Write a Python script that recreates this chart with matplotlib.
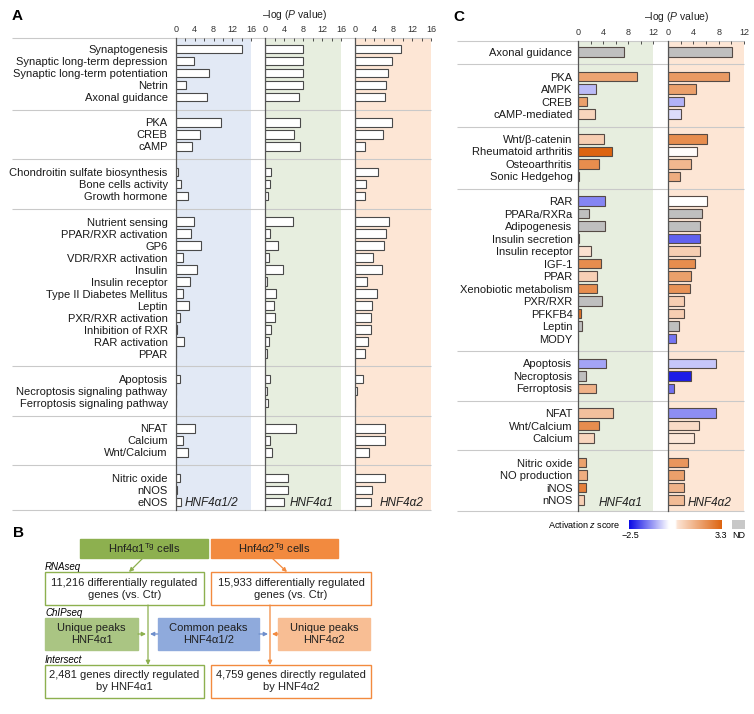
import numpy as np
import matplotlib.pyplot as plt
from matplotlib.colors import LinearSegmentedColormap, Normalize
from matplotlib.patches import Rectangle

plt.rcParams['font.family'] = ['Liberation Sans', 'DejaVu Sans']
plt.rcParams['mathtext.fontset'] = 'custom'
plt.rcParams['mathtext.rm'] = 'Liberation Sans'
plt.rcParams['mathtext.it'] = 'Liberation Sans:italic'

W, H = 754, 714

# ---- panel A data: -log(P) per pathway
a_labels = ['Synaptogenesis', 'Synaptic long-term depression', 'Synaptic long-term potentiation',
            'Netrin', 'Axonal guidance',
            'PKA', 'CREB', 'cAMP',
            'Chondroitin sulfate biosynthesis', 'Bone cells activity', 'Growth hormone',
            'Nutrient sensing', 'PPAR/RXR activation', 'GP6', 'VDR/RXR activation', 'Insulin',
            'Insulin receptor', 'Type II Diabetes Mellitus', 'Leptin', 'PXR/RXR activation',
            'Inhibition of RXR', 'RAR activation', 'PPAR',
            'Apoptosis', 'Necroptosis signaling pathway', 'Ferroptosis signaling pathway',
            'NFAT', 'Calcium', 'Wnt/Calcium',
            'Nitric oxide', 'nNOS', 'eNOS']
a_sizes = [5, 3, 3, 12, 3, 3, 3]
a_hnf12 = [14.0, 3.9, 7.1, 2.2, 6.7,
           9.5, 5.1, 3.5,
           0.35, 1.0, 2.5,
           3.9, 3.1, 5.3, 1.5, 4.4, 2.9, 1.4, 2.7, 0.9, 0.3, 1.7, 0.0,
           0.8, 0.0, 0.0,
           4.1, 1.5, 2.5,
           0.8, 0.3, 1.0]
a_hnf1 = [7.9, 8.1, 8.1, 8.1, 7.1,
          7.4, 6.2, 7.3,
          1.3, 1.1, 0.7,
          5.8, 1.1, 2.7, 0.9, 3.7, 0.5, 2.3, 1.8, 2.0, 1.3, 0.9, 0.35,
          1.1, 0.5, 0.6,
          6.6, 1.1, 1.5,
          4.9, 4.9, 4.1]
a_hnf2 = [9.7, 7.8, 6.9, 6.5, 6.3,
          7.8, 5.8, 2.1,
          4.8, 2.3, 2.1,
          7.2, 6.5, 6.1, 3.7, 5.7, 2.5, 4.6, 3.6, 3.4, 3.4, 2.7, 2.2,
          1.7, 0.4, 0.1,
          6.3, 6.3, 3.0,
          6.3, 3.6, 3.4]
a_names = ['HNF4α1/2', 'HNF4α1', 'HNF4α2']
a_ticks = [0, 4, 8, 12, 16]

# ---- panel C data: -log(P) and activation z score (nan = ND)
c_labels = ['Axonal guidance',
            'PKA', 'AMPK', 'CREB', 'cAMP-mediated',
            'Wnt/β-catenin', 'Rheumatoid arthritis', 'Osteoarthritis', 'Sonic Hedgehog',
            'RAR', 'PPARa/RXRa', 'Adipogenesis', 'Insulin secretion', 'Insulin receptor',
            'IGF-1', 'PPAR', 'Xenobiotic metabolism', 'PXR/RXR', 'PFKFB4', 'Leptin', 'MODY',
            'Apoptosis', 'Necroptosis', 'Ferroptosis',
            'NFAT', 'Wnt/Calcium', 'Calcium',
            'Nitric oxide', 'NO production', 'iNOS', 'nNOS']
c_sizes = [1, 4, 4, 12, 3, 3, 4]
c_hnf1 = [7.3,
          9.5, 2.9, 1.4, 2.7,
          4.1, 5.4, 3.3, 0.2,
          4.3, 1.8, 4.3, 0.2, 2.0, 3.7, 3.1, 3.0, 3.8, 0.5, 0.7, 0.0,
          4.5, 1.2, 2.8,
          5.6, 3.3, 2.5,
          1.3, 1.5, 1.3, 1.0]
c_hnf2 = [10.1,
          9.6, 4.4, 2.5, 2.0,
          6.2, 4.6, 3.7, 1.9,
          6.2, 5.4, 5.1, 5.1, 5.0, 4.3, 3.7, 3.4, 2.6, 2.6, 1.8, 1.3,
          7.6, 3.6, 1.0,
          7.6, 4.9, 4.1,
          3.1, 2.6, 2.5, 2.5]
nan = np.nan
c_z1 = [nan,
        1.9, -0.7, 2.0, 0.85,
        1.0, 3.3, 2.4, nan,
        -1.25, nan, nan, -2.3, 0.6, 2.4, 0.95, 2.4, nan, 3.0, nan, nan,
        -0.93, nan, 1.6,
        1.3, 2.4, 0.85,
        1.95, 1.7, 2.7, 0.95]
c_z2 = [nan,
        2.1, 2.0, -0.8, -0.35,
        2.4, 0.4, 1.5, 1.7,
        0.1, nan, nan, -1.6, 1.0, 2.4, 2.0, 2.3, 1.0, 1.0, nan, -1.4,
        -0.58, -2.3, -1.45,
        -1.15, 0.7, 0.5,
        2.2, 2.0, 1.6, 1.4]
c_names = ['HNF4α1', 'HNF4α2']
c_ticks = [0, 4, 8, 12]
z_min, z_max = -2.5, 3.3


def rect(x0, y0, x1, y1):
    return [x0 / W, 1 - y1 / H, (x1 - x0) / W, (y1 - y0) / H]


def rows(sizes, first, step, gap):
    pos = []
    k = 0
    for g, n in enumerate(sizes):
        for i in range(n):
            pos.append(first + k * step + g * gap)
            k += 1
    ends = np.cumsum(sizes)[:-1]
    seps = [(pos[e - 1] + pos[e]) / 2 for e in ends]
    return np.array(pos), seps


def style_axis(ax, xmax, ticks):
    ax.set_xlim(0, xmax)
    ax.xaxis.tick_top()
    ax.set_xticks(ticks)
    ax.set_xticks(np.arange(0, xmax + 1, 2), minor=True)
    ax.tick_params(axis='x', which='both', direction='in', length=2, width=0.6, pad=3,
                   labelsize=6.5, colors='#333333')
    for s in ['top', 'right', 'bottom']:
        ax.spines[s].set_visible(False)
    ax.spines['left'].set_color(spine_color)
    ax.spines['left'].set_linewidth(0.9)


fig = plt.figure(figsize=(W / 100, H / 100), dpi=100)
bg = fig.add_axes([0, 0, 1, 1])
bg.set_xlim(0, W)
bg.set_ylim(H, 0)
bg.axis('off')

sep_color = '#C9C9C9'
spine_color = '#555555'
title = '–log (' + r'$\mathit{P}$' + ' value)'

# ================= panel A =================
a_top, a_bot = 38, 510
a_x = [(176, 251), (265, 341), (355, 431)]
a_shade = ['#E2E9F5', '#E7EEDF', '#FDE6D5']
a_pos, a_seps = rows(a_sizes, 49, 12, 13.5)

for j, (x0, x1) in enumerate(a_x):
    bg.add_patch(Rectangle((x0, a_top), x1 - x0, a_bot - a_top, color=a_shade[j], lw=0, zorder=0))
bg.hlines([a_top] + a_seps + [a_bot], 12, 431, color=sep_color, lw=0.8, zorder=1)

for j, vals in enumerate([a_hnf12, a_hnf1, a_hnf2]):
    x0, x1 = a_x[j]
    ax = fig.add_axes(rect(x0, a_top, x1, a_bot), facecolor='none')
    ax.barh(a_pos, vals, height=8.3, color='white', edgecolor='#4a4a4a', lw=0.8)
    ax.set_ylim(a_bot, a_top)
    style_axis(ax, 16, a_ticks)
    if j == 0:
        ax.set_yticks(a_pos, a_labels)
        ax.tick_params(axis='y', length=0, pad=6, labelsize=8, labelcolor='#1a1a1a')
    else:
        ax.set_yticks([])

bg.text(12, 16, 'A', fontsize=11, fontweight='bold', va='center')
bg.text(295, 15, title, ha='center', va='center', fontsize=7.5, color='#222222')
for name, xl in zip(a_names, [185, 290, 380]):
    bg.text(xl, 503, name, fontsize=8.5, style='italic', va='center', color='#222222')

# ================= panel C =================
c_top, c_bot = 41, 511
c_x = [(578, 653), (668, 744)]
c_shade = ['#E7EEDF', '#FDE6D5']
c_pos, c_seps = rows(c_sizes, 52, 12.5, 12.2)

cmap = LinearSegmentedColormap.from_list(
    'zscore', [(0, '#0A0AE6'), (0.43, '#FFFFFF'), (0.5, '#FFFFFF'), (0.52, '#FCE4D4'), (1, '#DD6410')])
norm = Normalize(z_min, z_max)

for j, (x0, x1) in enumerate(c_x):
    bg.add_patch(Rectangle((x0, c_top), x1 - x0, c_bot - c_top, color=c_shade[j], lw=0, zorder=0))
bg.hlines([c_top] + c_seps + [c_bot], 457, 744, color=sep_color, lw=0.8, zorder=1)

for j, (vals, zs) in enumerate([(c_hnf1, c_z1), (c_hnf2, c_z2)]):
    x0, x1 = c_x[j]
    ax = fig.add_axes(rect(x0, c_top, x1, c_bot), facecolor='none')
    z = np.array(zs, dtype=float)
    cols = [('#BFBFBF' if np.isnan(v) else cmap(norm(v))) for v in z]
    ax.barh(c_pos, vals, height=9.5, color=cols, edgecolor='#554a45', lw=0.8)
    ax.set_ylim(c_bot, c_top)
    style_axis(ax, 12, c_ticks)
    if j == 0:
        ax.set_yticks(c_pos, c_labels)
        ax.tick_params(axis='y', length=0, pad=4, labelsize=8, labelcolor='#1a1a1a')
    else:
        ax.set_yticks([])

bg.text(453, 17, 'C', fontsize=11, fontweight='bold', va='center')
bg.text(677, 17, title, ha='center', va='center', fontsize=7.5, color='#222222')
for name, xl in zip(c_names, [599, 688]):
    bg.text(xl, 503, name, fontsize=8.5, style='italic', va='center', color='#222222')

# colour scale
cax = fig.add_axes(rect(629, 520, 722, 529))
cax.imshow(np.linspace(z_min, z_max, 256)[None, :], aspect='auto', cmap=cmap, norm=norm)
cax.axis('off')
bg.add_patch(Rectangle((732, 520), 13, 9, color='#C8C8C8', lw=0))
bg.text(620, 524.5, 'Activation ' + r'$\mathit{z}$' + ' score', ha='right', va='center', fontsize=6.5)
bg.text(630, 535, '−2.5', ha='center', va='center', fontsize=6.5)
bg.text(721, 535, '3.3', ha='center', va='center', fontsize=6.5)
bg.text(739, 535, 'ND', ha='center', va='center', fontsize=6.5)

# ================= panel B =================
green, orange = '#8DB04F', '#F28A3F'


def box(x0, y0, x1, y1, face, edge, text, size=8):
    bg.add_patch(Rectangle((x0, y0), x1 - x0, y1 - y0, facecolor=face, edgecolor=edge, lw=1))
    bg.text((x0 + x1) / 2, (y0 + y1) / 2, text, ha='center', va='center', fontsize=size,
            color='#1f1f1f', linespacing=1.25)


def arrow(x0, y0, x1, y1, c):
    bg.annotate('', xy=(x1, y1), xytext=(x0, y0),
                arrowprops=dict(arrowstyle='-|>', color=c, lw=0.9, mutation_scale=6,
                                shrinkA=0, shrinkB=0))


bg.text(13, 533, 'B', fontsize=11, fontweight='bold', va='center')
box(80, 539, 208, 558, green, green, r'Hnf4α1$^{\mathrm{Tg}}$ cells')
box(211, 539, 338, 558, orange, orange, r'Hnf4α2$^{\mathrm{Tg}}$ cells')
box(45, 572, 204, 605, 'white', green, '11,216 differentially regulated\ngenes (vs. Ctr)')
box(211, 572, 371, 605, 'white', orange, '15,933 differentially regulated\ngenes (vs. Ctr)')
box(45, 618, 138, 650, '#AAC583', '#AAC583', 'Unique peaks\nHNF4α1')
box(158, 618, 259, 650, '#8FAADC', '#8FAADC', 'Common peaks\nHNF4α1/2')
box(278, 618, 370, 650, '#F8BE94', '#F8BE94', 'Unique peaks\nHNF4α2')
box(45, 665, 204, 698, 'white', green, '2,481 genes directly regulated\nby HNF4α1')
box(211, 665, 371, 698, 'white', orange, '4,759 genes directly regulated\nby HNF4α2')

bg.text(45, 567, 'RNAseq', style='italic', fontsize=7, va='center')
bg.text(45, 613, 'ChIPseq', style='italic', fontsize=7, va='center')
bg.text(45, 660, 'Intersect', style='italic', fontsize=7, va='center')

arrow(143, 558, 129, 572, green)
arrow(272, 558, 287, 572, orange)
arrow(148, 605, 148, 665, green)
arrow(270, 605, 270, 665, orange)
arrow(138, 634, 146, 634, green)
arrow(158, 634, 150, 634, '#6F8FCC')
arrow(259, 634, 268, 634, '#6F8FCC')
arrow(278, 634, 272, 634, orange)

fig.savefig('out.png', dpi=100)
